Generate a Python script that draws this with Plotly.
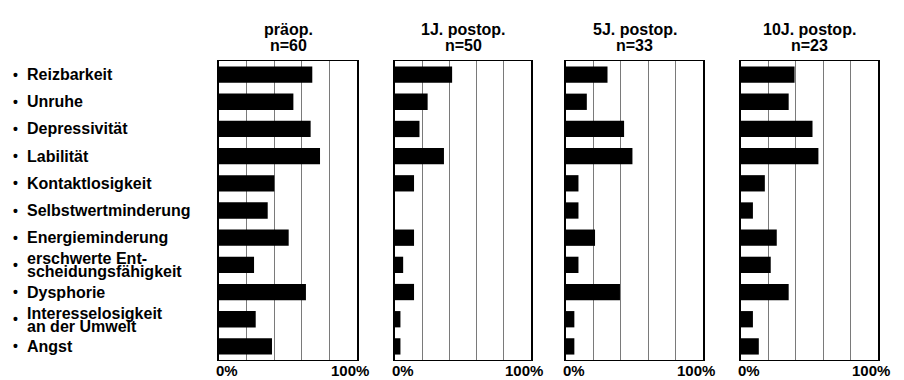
import plotly.graph_objects as go

categories = ["Reizbarkeit", "Unruhe", "Depressivität", "Labilität", "Kontaktlosigkeit",
              "Selbstwertminderung", "Energieminderung",
              "erschwerte Ent-<br>scheidungsfähigkeit", "Dysphorie",
              "Interesselosigkeit<br>an der Umwelt", "Angst"]

panel_titles = ["präop.", "1J. postop.", "5J. postop.", "10J. postop."]
panel_n = ["n=60", "n=50", "n=33", "n=23"]

preop = [67.6, 53.9, 66.4, 73.2, 40.1, 35.3, 50.5, 25.4, 63.0, 26.6, 38.4]
post1 = [42.0, 24.0, 18.0, 36.0, 14.0, 0.0, 14.0, 6.0, 14.0, 4.0, 4.0]
post5 = [30.3, 15.2, 42.4, 48.5, 9.1, 9.1, 21.2, 9.1, 39.4, 6.1, 6.1]
post10 = [39.1, 34.8, 52.2, 56.5, 17.4, 8.7, 26.1, 21.7, 34.8, 8.7, 13.0]
series = [preop, post1, post5, post10]

tick_labels = ["0%", "100%"]

W, H = 904, 380
panels_px = [(219, 357), (395, 531), (566, 703), (741, 878)]
top_px, bot_px = 61, 360
FONT = "Arial, Liberation Sans, sans-serif"

fig = go.Figure()
layout = dict(
    width=W, height=H, margin=dict(l=0, r=0, t=0, b=0),
    paper_bgcolor="white", plot_bgcolor="white", showlegend=False,
    font=dict(family=FONT, color="black"),
)
annotations = []
ydom = [(H - bot_px) / H, (H - top_px) / H]

for i, (vals, (x0, x1)) in enumerate(zip(series, panels_px)):
    sfx = "" if i == 0 else str(i + 1)
    fig.add_trace(go.Bar(
        x=vals, y=list(range(len(categories))), orientation="h",
        marker=dict(color="black", line=dict(width=0)), width=0.6,
        xaxis="x" + sfx, yaxis="y" + sfx, hoverinfo="skip",
    ))
    layout["xaxis" + sfx] = dict(
        domain=[x0 / W, x1 / W], range=[0, 100], anchor="y" + sfx,
        showgrid=True, dtick=20, gridcolor="#7a7a7a", gridwidth=1,
        showline=True, linecolor="black", linewidth=1, mirror=True,
        showticklabels=False, ticks="", zeroline=False, fixedrange=True,
    )
    layout["yaxis" + sfx] = dict(
        domain=ydom, range=[len(categories) - 0.5, -0.5], anchor="x" + sfx,
        showgrid=False, showline=True, linecolor="black", linewidth=1.5, mirror=True,
        showticklabels=False, ticks="", zeroline=False, fixedrange=True,
    )
    xc = (x0 + x1) / 2 / W
    annotations.append(dict(xref="paper", yref="paper", x=xc, y=(H - 29) / H,
                            text="<b>%s</b>" % panel_titles[i], showarrow=False,
                            xanchor="center", yanchor="middle", font=dict(size=16)))
    annotations.append(dict(xref="paper", yref="paper", x=xc, y=(H - 45) / H,
                            text="<b>%s</b>" % panel_n[i], showarrow=False,
                            xanchor="center", yanchor="middle", font=dict(size=16)))
    annotations.append(dict(xref="x" + sfx, yref="paper", x=0, y=0,
                            text="<b>%s</b>" % tick_labels[0], showarrow=False,
                            xanchor="left", yanchor="bottom", xshift=-4, borderpad=0,
                            font=dict(size=15)))
    annotations.append(dict(xref="x" + sfx, yref="paper", x=100, y=0,
                            text="<b>%s</b>" % tick_labels[1], showarrow=False,
                            xanchor="right", yanchor="bottom", xshift=13, borderpad=0,
                            font=dict(size=15)))

for j, cat in enumerate(categories):
    lines = cat.split("<br>")
    annotations.append(dict(xref="paper", yref="y", x=11 / W, y=j, text="<b>•</b>",
                            showarrow=False, xanchor="left", yanchor="middle",
                            font=dict(size=14)))
    if len(lines) == 1:
        annotations.append(dict(xref="paper", yref="y", x=25 / W, y=j,
                                text="<b>%s</b>" % lines[0], showarrow=False,
                                xanchor="left", yanchor="middle", font=dict(size=16)))
    else:
        for k, ln in enumerate(lines):
            annotations.append(dict(xref="paper", yref="y", x=25 / W, y=j,
                                    text="<b>%s</b>" % ln, showarrow=False,
                                    xanchor="left", yanchor="middle",
                                    yshift=6 if k == 0 else -7, font=dict(size=16)))

layout["annotations"] = annotations
fig.update_layout(**layout)
fig.write_html("out.html", config={"displayModeBar": False},
               post_script="document.body.style.margin='0';document.body.style.padding='0';")
